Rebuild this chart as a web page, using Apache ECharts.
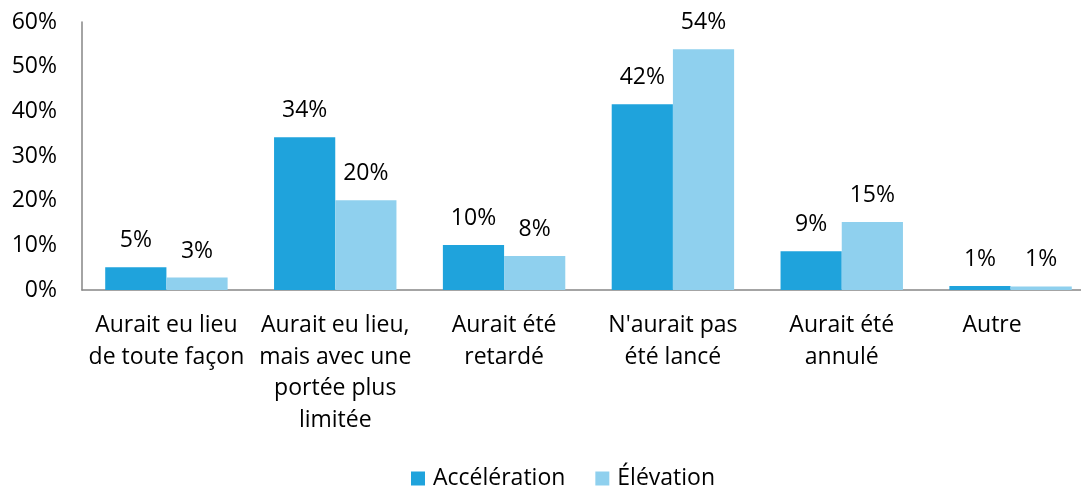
<!DOCTYPE html>
<html>
<head>
<meta charset="utf-8">
<script src="https://cdn.jsdelivr.net/npm/echarts@6/dist/echarts.min.js"></script>
<style>html,body{margin:0;padding:0;background:#fff;}#c{width:1081px;height:489px;}</style>
</head>
<body>
<div id="c"></div>
<script>
const categories = [
  "Aurait eu lieu\nde toute façon",
  "Aurait eu lieu,\nmais avec une\nportée plus\nlimitée",
  "Aurait été\nretardé",
  "N'aurait pas\nété lancé",
  "Aurait été\nannulé",
  "Autre"
];
const seriesNames = ["Accélération", "Élévation"];
const acceleration = [5.1, 34.2, 10.1, 41.6, 8.7, 0.9];
const elevation = [2.8, 20.1, 7.6, 53.9, 15.2, 0.8];
const yTicks = [0, 10, 20, 30, 40, 50, 60];

const FONT = "Open Sans";
const FS = 23;
const chart = echarts.init(document.getElementById('c'), null, {renderer: 'canvas'});
const labelOpt = {
  show: true,
  position: 'top',
  distance: 15,
  color: '#000',
  fontFamily: FONT,
  fontSize: FS,
  formatter: p => Math.round(p.value) + '%'
};
const catData = categories.map((c, i) => i === categories.length - 1
  ? {value: c, textStyle: {padding: [0, 37, 0, 0]}}
  : c);
chart.setOption({
  animation: false,
  textStyle: {fontFamily: FONT},
  grid: {left: 82, top: 22, width: 1013, height: 268, containLabel: false, outerBoundsMode: 'none'},
  legend: {
    data: seriesNames,
    top: 467,
    left: 411,
    padding: 0,
    itemWidth: 14,
    itemHeight: 14,
    itemGap: 30,
    icon: 'rect',
    textStyle: {fontFamily: FONT, fontSize: FS, color: '#000', padding: [0, 0, 0, 3]}
  },
  xAxis: {
    type: 'category',
    data: catData,
    axisLine: {show: true, lineStyle: {color: '#868686', width: 1.5}},
    axisTick: {show: false},
    axisLabel: {
      interval: 0,
      margin: 20,
      fontFamily: FONT,
      fontSize: FS,
      lineHeight: 31.5,
      color: '#000',
      align: 'center'
    }
  },
  yAxis: {
    type: 'value',
    min: yTicks[0],
    max: yTicks[yTicks.length - 1],
    interval: 10,
    axisLine: {show: true, lineStyle: {color: '#868686', width: 1.5}},
    axisTick: {show: false},
    splitLine: {show: false},
    axisLabel: {
      margin: 25,
      fontFamily: FONT,
      fontSize: FS,
      color: '#000',
      formatter: v => v + '%'
    }
  },
  series: [
    {
      name: seriesNames[0],
      type: 'bar',
      data: acceleration,
      barGap: '0%',
      barCategoryGap: '27.5%',
      itemStyle: {color: '#1FA3DC'},
      label: labelOpt
    },
    {
      name: seriesNames[1],
      type: 'bar',
      data: elevation,
      itemStyle: {color: '#8FD0EE'},
      label: labelOpt
    }
  ]
});
</script>
</body>
</html>
